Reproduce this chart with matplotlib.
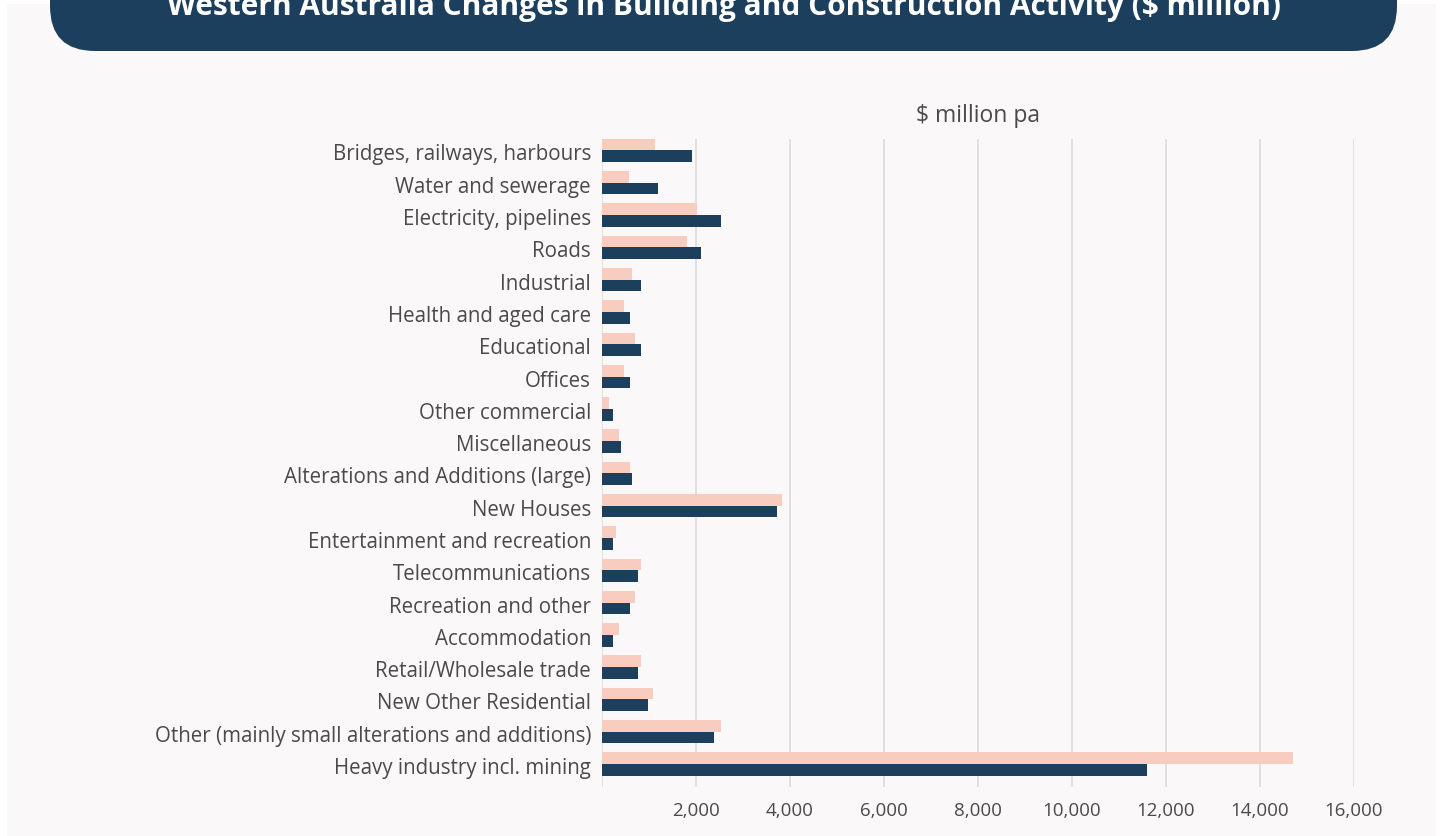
import numpy as np
import matplotlib
matplotlib.use("Agg")
from matplotlib import pyplot as plt
from matplotlib.patches import FancyBboxPatch, Rectangle
from matplotlib.transforms import ScaledTranslation

categories = [
    "Bridges, railways, harbours",
    "Water and sewerage",
    "Electricity, pipelines",
    "Roads",
    "Industrial",
    "Health and aged care",
    "Educational",
    "Offices",
    "Other commercial",
    "Miscellaneous",
    "Alterations and Additions (large)",
    "New Houses",
    "Entertainment and recreation",
    "Telecommunications",
    "Recreation and other",
    "Accommodation",
    "Retail/Wholesale trade",
    "New Other Residential",
    "Other (mainly small alterations and additions)",
    "Heavy industry incl. mining",
]
# two periods, $ million pa
prev_vals = [1120, 570, 2015, 1800, 630, 460, 700, 460, 145, 355,
             590, 3820, 290, 825, 700, 355, 825, 1080, 2525, 14710]
curr_vals = [1910, 1185, 2525, 2100, 825, 590, 825, 590, 230, 400,
             630, 3715, 230, 760, 590, 230, 760, 975, 2380, 11590]
xticks = [2000, 4000, 6000, 8000, 10000, 12000, 14000, 16000]

navy = "#1b3f5c"
peach = "#f8cdbf"
bg = "#faf8f9"
txt = "#4a4a4a"

W, H = 1443, 837
fig = plt.figure(figsize=(W / 100, H / 100), dpi=100)
fig.patch.set_facecolor("white")

# background layer in pixel coordinates
back = fig.add_axes([0, 0, 1, 1], zorder=0)
back.set_xlim(0, W)
back.set_ylim(H, 0)
back.axis("off")
back.add_patch(Rectangle((7, 5), W - 14, H, facecolor=bg, edgecolor="none"))
back.add_patch(FancyBboxPatch((50, -80), 1347, 132,
                              boxstyle="round,pad=0,rounding_size=45",
                              facecolor=navy, edgecolor="none"))
back.text(724, 15, "Western Australia Changes in Building and Construction Activity ($ million)",
          color="white", fontsize=21.5, fontweight="bold", family="Open Sans",
          ha="center", va="baseline")

# main chart
left, right, top, bottom = 602, 1354, 140, 788
ax = fig.add_axes([left / W, 1 - bottom / H, (right - left) / W, (bottom - top) / H], zorder=1)
ax.patch.set_alpha(0)

y = np.arange(len(categories))
h = 0.362
ax.barh(y - h / 2, prev_vals, height=h, color=peach, zorder=2)
ax.barh(y + h / 2, curr_vals, height=h, color=navy, zorder=3)

ax.set_xlim(0, 16000)
ax.set_ylim(len(categories) - 1 + 0.712, -0.356)
ax.set_xticks(xticks)
ax.set_xticklabels([f"{v:,}" for v in xticks])
ax.set_yticks(y)
ax.set_yticklabels(categories)
ax.xaxis.grid(True, color="#dcdcdc", linewidth=1.2, zorder=0)
ax.axvline(0, color="#dcdcdc", linewidth=1.2, zorder=1)
for s in ax.spines.values():
    s.set_visible(False)
ax.tick_params(axis="both", length=0, labelcolor=txt)
ax.tick_params(axis="y", pad=8, labelsize=14.8)
ax.tick_params(axis="x", pad=10, labelsize=13.5)
for lab in ax.get_yticklabels() + ax.get_xticklabels():
    lab.set_family("Open Sans")

# nudge category labels down a little
shift = ScaledTranslation(0, -0.01, fig.dpi_scale_trans)
for tick in ax.yaxis.get_major_ticks():
    tick.label1.set_transform(tick.label1.get_transform() + shift)

ax.set_title("$ million pa", fontsize=16.5, color=txt, family="Open Sans", pad=13)

fig.savefig("out.png", dpi=100, facecolor=fig.get_facecolor())
